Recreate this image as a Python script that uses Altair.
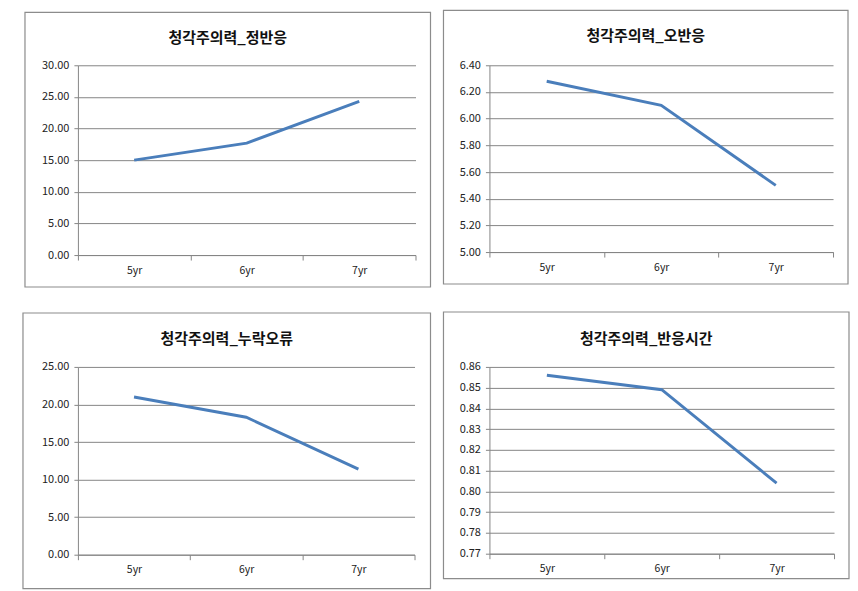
import altair as alt
import pandas as pd

years = ["5yr", "6yr", "7yr"]

titles = ["청각주의력_정반응", "청각주의력_오반응", "청각주의력_누락오류", "청각주의력_반응시간"]
correct = [15.0, 17.7, 24.3]
commission = [6.28, 6.10, 5.50]
omission = [21.0, 18.3, 11.4]
rt = [0.856, 0.849, 0.804]

ticks_correct = [0, 5, 10, 15, 20, 25, 30]
ticks_commission = [5.0, 5.2, 5.4, 5.6, 5.8, 6.0, 6.2, 6.4]
ticks_omission = [0, 5, 10, 15, 20, 25]
ticks_rt = [0.77, 0.78, 0.79, 0.80, 0.81, 0.82, 0.83, 0.84, 0.85, 0.86]

LINE = "#4a7ebb"
GRID = "#868686"
FONT = "Noto Sans CJK KR"


def panel(title, values, ticks, W, H, box, title_dy):
    left, right, top, bottom = box
    df = pd.DataFrame({"year": years, "value": values})
    one = pd.DataFrame({"k": [0]})
    frame = alt.Chart(one).mark_rect(
        fillOpacity=0, stroke="#8c8c8c", strokeWidth=1.2
    ).encode(
        x=alt.value(-left), x2=alt.value(W + right),
        y=alt.value(-top), y2=alt.value(H + bottom),
    )
    head = alt.Chart(one).mark_text(
        font=FONT, fontSize=15, fontWeight="bold", color="#111",
        align="center", baseline="middle",
    ).encode(
        text=alt.value(title),
        x=alt.value((W + right - left) / 2),
        y=alt.value(-title_dy),
    )
    line = alt.Chart(df).mark_line(color=LINE, strokeWidth=2.9).encode(
        x=alt.X("year:N", sort=years, title=None,
                scale=alt.Scale(type="band", paddingInner=0, paddingOuter=0),
                axis=alt.Axis(labelAngle=0, tickBand="extent", grid=False,
                              domainColor=GRID, tickColor=GRID, tickSize=5,
                              labelPadding=5, labelFontSize=10.5, labelFont=FONT,
                              labelColor="#222")),
        y=alt.Y("value:Q", title=None,
                scale=alt.Scale(domain=[ticks[0], ticks[-1]], nice=False, zero=False),
                axis=alt.Axis(values=ticks, format=".2f", grid=True, gridColor=GRID,
                              domainColor=GRID, tickColor=GRID, tickSize=4,
                              labelPadding=5, labelFontSize=11, labelFont=FONT,
                              labelColor="#222")),
    )
    return alt.layer(frame, head, line).properties(width=W, height=H)


p1 = panel(titles[0], correct, ticks_correct, 338, 190, (53, 15, 53, 32), 27)
p2 = panel(titles[1], commission, ticks_commission, 344, 187, (46, 15, 55, 32), 29)
p3 = panel(titles[2], omission, ticks_omission, 337, 188, (55, 16, 54, 34), 28)
p4 = panel(titles[3], rt, ticks_rt, 345, 187, (46, 15, 55, 25), 28)

chart = alt.vconcat(
    alt.hconcat(p1, p2, spacing=11),
    alt.hconcat(p3, p4, spacing=11),
    spacing=23,
).configure_view(stroke=None).properties(
    padding={"left": 14, "top": 1, "right": 0, "bottom": 0}
)

chart.save("out.html", embed_options={"renderer": "svg", "actions": False})
